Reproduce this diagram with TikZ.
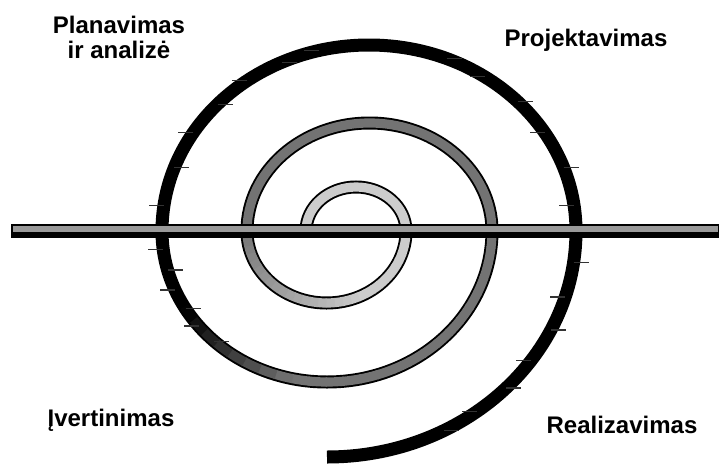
\documentclass[tikz,border=0pt]{standalone}
\usepackage{fontspec}
\setmainfont{Liberation Sans}

\begin{document}
\begin{tikzpicture}[x=0.5pt,y=0.5pt,
  lbl/.style={font=\fontsize{12}{12.5}\selectfont\bfseries,align=center,inner sep=0pt},
  band/.style={line width=6.5pt},
  core/.style={line width=4.6pt},
  tick/.style={line width=0.6pt,black!80}]
  \useasboundingbox (0,0) rectangle (719,463);
  % the spiral, all black first
  \draw[band] (306,232)
    arc[start angle=180,end angle=0,x radius=50,y radius=44]
    arc[start angle=0,end angle=-180,x radius=79.5,y radius=72]
    arc[start angle=180,end angle=0,x radius=122.5,y radius=108]
    arc[start angle=0,end angle=-180,x radius=165,y radius=151]
    arc[start angle=180,end angle=0,x radius=207,y radius=186]
    arc[start angle=0,end angle=-90,x radius=249,y radius=226];
  % lighter inside of the inner turns
  \draw[core,black!20] (306,232) arc[start angle=180,end angle=0,x radius=50,y radius=44];
  \foreach \a in {0,-6,...,-174}{
    \pgfmathsetmacro\shd{\a>-60 ? 20 : 20+35*(-\a-60)/120}
    \draw[core,black!\shd] (326.5,232) ++(\a:79.5 and 72)
      arc[start angle=\a,delta angle=-6.5,x radius=79.5,y radius=72];
  }
  \draw[core,black!55] (247,232) arc[start angle=180,end angle=0,x radius=122.5,y radius=108];
  \foreach \a in {0,-6,...,-150}{
    \pgfmathsetmacro\shd{\a>-100 ? 55 : min(100,55+45*(-\a-100)/45)}
    \draw[core,black!\shd] (327,232) ++(\a:165 and 151)
      arc[start angle=\a,delta angle=-6.5,x radius=165,y radius=151];
  }
  % small marks along the outer turns
  \foreach \a [count=\i] in {172,160,148,137,126,115,104,8,20,32,44,56,68}{
    \pgfmathsetmacro\dx{ifthenelse(mod(\i,2),1,-1)*15*sign(cos(\a))}
    \draw[tick] (369,232) ++(\a:207 and 186) -- +(\dx,0);
  }
  \foreach \a [count=\i] in {-8,-17,-26,-35,-44,-53,-62}{
    \pgfmathsetmacro\dx{ifthenelse(mod(\i,2),1,-1)*15*sign(cos(\a))}
    \draw[tick] (327,232) ++(\a:249 and 226) -- +(\dx,0);
  }
  \foreach \a [count=\i] in {-173,-165,-157,-149,-141,-133}{
    \pgfmathsetmacro\dx{ifthenelse(mod(\i,2),1,-1)*15*sign(cos(\a))}
    \draw[tick] (327,232) ++(\a:165 and 151) -- +(\dx,0);
  }
  % horizontal axis
  \draw[line width=0.6pt,fill=black!40] (12,226) rectangle (719,238);
  \fill (12,226) rectangle (719,231.5);
  % phase labels
  \node[lbl] (plan) at (119,426) {Planavimas\\ir analizė};
  \node[lbl] (proj) at (586,423) {Projektavimas};
  \node[lbl] (ivert) at (111,43) {Įvertinimas};
  \node[lbl] (real) at (622,38) {Realizavimas};
\end{tikzpicture}
\end{document}
